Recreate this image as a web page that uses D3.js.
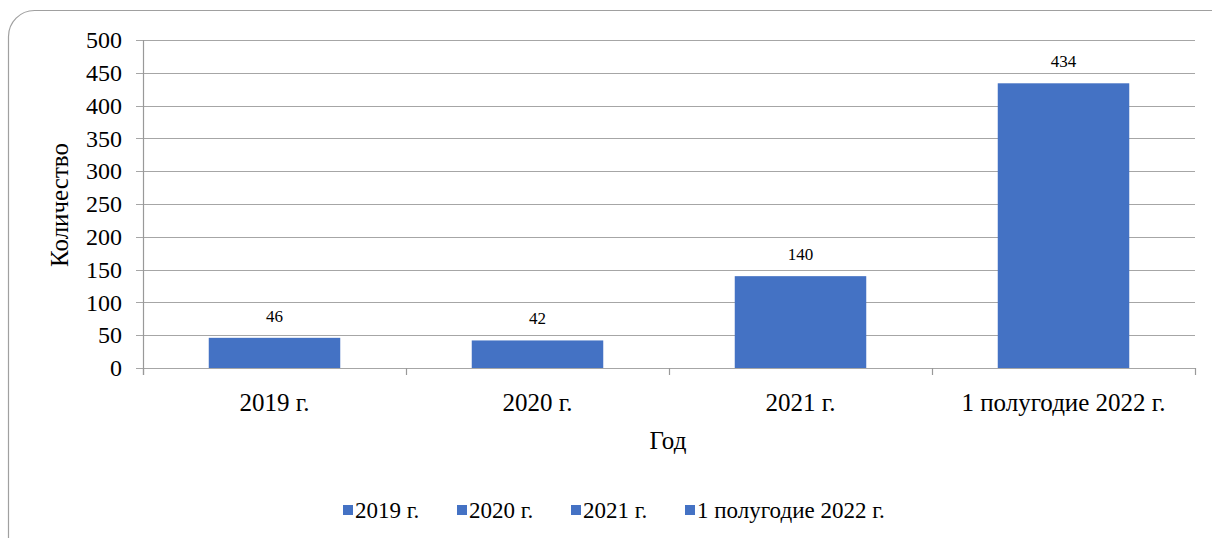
<!DOCTYPE html>
<html>
<head>
<meta charset="utf-8">
<script src="https://cdn.jsdelivr.net/npm/d3@7"></script>
<style>
body{margin:0;background:#fff;}
</style>
</head>
<body>
<div id="chart"></div>
<script>
// data
const categories = ['2019 г.', '2020 г.', '2021 г.', '1 полугодие 2022 г.'];
const values = [46, 42, 140, 434];
const yTicks = [0, 50, 100, 150, 200, 250, 300, 350, 400, 450, 500];

const W = 1212, H = 538;
const margin = {top: 40, right: 17, bottom: 170, left: 143};
const cw = W - margin.left - margin.right;
const ch = H - margin.top - margin.bottom;
const barColor = '#4472c4';
const gridColor = '#a6a6a6';
const serif = "Liberation Serif, Tinos, Noto Serif, Times New Roman, Times, DejaVu Serif, serif";

const svg = d3.select('#chart').append('svg').attr('width', W).attr('height', H)
    .attr('font-family', serif);

// frame
svg.append('rect')
    .attr('x', 8.5).attr('y', 10.5)
    .attr('width', W + 20).attr('height', H + 20)
    .attr('rx', 26).attr('ry', 26)
    .attr('fill', 'none').attr('stroke', '#a0a0a0').attr('stroke-width', 1.2);

const g = svg.append('g').attr('transform', `translate(${margin.left},${margin.top})`);

const x = d3.scaleBand().domain(categories).range([0, cw]).paddingInner(0.5).paddingOuter(0.25);
const xOuter = d3.scaleBand().domain(categories).range([0, cw]);
const y = d3.scaleLinear().domain([0, 500]).range([ch, 0]);

// grid
g.append('g').selectAll('line').data(yTicks).join('line')
    .attr('x1', -7).attr('x2', cw)
    .attr('y1', d => Math.round(y(d)) + 0.5).attr('y2', d => Math.round(y(d)) + 0.5)
    .attr('stroke', gridColor).attr('stroke-width', 1.2);

// y axis
const yAxis = g.append('g').call(d3.axisLeft(y).tickValues(yTicks).tickSize(0).tickPadding(21));
yAxis.attr('font-family', serif).attr('font-size', null);
yAxis.select('.domain').remove();
yAxis.selectAll('text').attr('font-size', 24).attr('fill', '#000');
g.append('line').attr('x1', 0.5).attr('x2', 0.5).attr('y1', 0).attr('y2', ch + 7)
    .attr('stroke', '#999').attr('stroke-width', 1.2);

// x ticks (category boundaries)
const bounds = categories.map(c => xOuter(c)).concat([cw]);
g.append('g').selectAll('line').data(bounds).join('line')
    .attr('x1', d => Math.round(d) + 0.5).attr('x2', d => Math.round(d) + 0.5)
    .attr('y1', ch).attr('y2', ch + 7)
    .attr('stroke', '#999').attr('stroke-width', 1.2);

// bars
g.append('g').selectAll('rect').data(values).join('rect')
    .attr('x', (d, i) => x(categories[i]))
    .attr('y', d => y(d))
    .attr('width', x.bandwidth())
    .attr('height', d => ch - y(d))
    .attr('fill', barColor);

// value labels
g.append('g').selectAll('text').data(values).join('text')
    .attr('x', (d, i) => x(categories[i]) + x.bandwidth() / 2)
    .attr('y', d => y(d) - 16)
    .attr('text-anchor', 'middle')
    .attr('font-size', 17)
    .text(d => d);

// category labels
g.append('g').selectAll('text').data(categories).join('text')
    .attr('x', d => xOuter(d) + xOuter.bandwidth() / 2)
    .attr('y', ch + 43)
    .attr('text-anchor', 'middle')
    .attr('font-size', 25)
    .text(d => d);

// axis titles
svg.append('text').attr('x', 668).attr('y', 449).attr('text-anchor', 'middle')
    .attr('font-size', 25).text('Год');
svg.append('text').attr('transform', 'translate(68,205) rotate(-90)').attr('text-anchor', 'middle')
    .attr('font-size', 25).text('Количество');

// legend
const legX = [343, 457, 571, 685];
const leg = svg.append('g').selectAll('g').data(categories).join('g')
    .attr('transform', (d, i) => `translate(${legX[i]},510)`);
leg.append('rect').attr('x', 0).attr('y', -5).attr('width', 10).attr('height', 10).attr('fill', barColor);
leg.append('text').attr('x', 12).attr('y', 8).attr('font-size', 23).text(d => d);
</script>
</body>
</html>
